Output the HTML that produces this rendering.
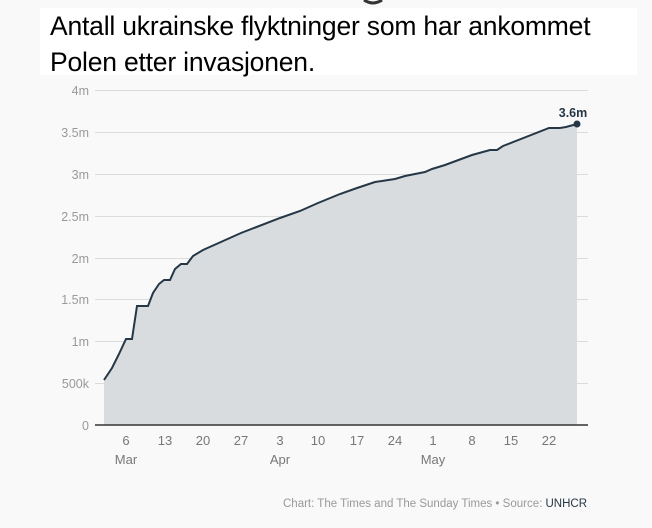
<!DOCTYPE html>
<html><head><style>
html,body{margin:0;padding:0;background:#f9f9f9;width:652px;height:528px;overflow:hidden;font-family:"Liberation Sans",sans-serif}
.t{position:absolute;left:40px;top:8px;width:597px;height:67px;background:#fff}
.t div{position:absolute;left:10px;font-size:26.5px;color:#000;white-space:nowrap;letter-spacing:-0.2px}
</style></head><body>
<svg width="652" height="528" style="position:absolute;left:0;top:0">
<path d="M364 0 q9 6 18 0" stroke="#333" stroke-width="3" fill="none"/>
<g stroke="#dcdcdc" stroke-width="1">
<line x1="95" x2="588" y1="90.5" y2="90.5"/><line x1="95" x2="588" y1="132.5" y2="132.5"/>
<line x1="95" x2="588" y1="174.5" y2="174.5"/><line x1="95" x2="588" y1="216.5" y2="216.5"/>
<line x1="95" x2="588" y1="258.5" y2="258.5"/><line x1="95" x2="588" y1="299.5" y2="299.5"/>
<line x1="95" x2="588" y1="341.5" y2="341.5"/><line x1="95" x2="588" y1="383.5" y2="383.5"/>
</g>
<path d="M104,380 L112,368 L119,354 L126,339 L132,339 L137,306 L148,306 L153,293 L159,284 L164,280 L170,280 L175,269 L181,264 L187,264 L193,256 L203,250 L241,233 L280,218 L300,211 L318,203 L340,194 L357,188 L375,182 L395,179 L405,176 L425,172 L432,169 L445,165 L472,155 L490,150 L497,150 L503,146 L549,128 L560,128 L566,127 L577,124 L577,425 L104,425 Z" fill="#d9dcdf"/>
<path d="M104,380 L112,368 L119,354 L126,339 L132,339 L137,306 L148,306 L153,293 L159,284 L164,280 L170,280 L175,269 L181,264 L187,264 L193,256 L203,250 L241,233 L280,218 L300,211 L318,203 L340,194 L357,188 L375,182 L395,179 L405,176 L425,172 L432,169 L445,165 L472,155 L490,150 L497,150 L503,146 L549,128 L560,128 L566,127 L577,124" fill="none" stroke="#253746" stroke-width="2"/>
<circle cx="577" cy="124" r="3.5" fill="#253746"/>
<line x1="95" x2="588" y1="425" y2="425" stroke="#333" stroke-width="1.5"/>
<text x="573" y="117" font-size="12.5" font-weight="bold" fill="#253746" text-anchor="middle">3.6m</text>
<g font-size="12.5" fill="#999" text-anchor="end">
<text x="89" y="95">4m</text><text x="89" y="137">3.5m</text><text x="89" y="179">3m</text>
<text x="89" y="221">2.5m</text><text x="89" y="263">2m</text><text x="89" y="304">1.5m</text>
<text x="89" y="346">1m</text><text x="89" y="388">500k</text><text x="89" y="430">0</text>
</g>
<g font-size="13" fill="#777" text-anchor="middle">
<text x="126" y="445">6</text><text x="165" y="445">13</text><text x="203" y="445">20</text>
<text x="241" y="445">27</text><text x="280" y="445">3</text><text x="318" y="445">10</text>
<text x="357" y="445">17</text><text x="395" y="445">24</text><text x="433" y="445">1</text>
<text x="472" y="445">8</text><text x="511" y="445">15</text><text x="549" y="445">22</text>
<text x="126" y="464">Mar</text><text x="280" y="464">Apr</text><text x="433" y="464">May</text>
</g>
<text x="283" y="507" font-size="11.5" fill="#999">Chart: The Times and The Sunday Times • Source: <tspan fill="#253746">UNHCR</tspan></text>
</svg>
<div class="t"><div style="top:3px">Antall ukrainske flyktninger som har ankommet</div><div style="top:39px">Polen etter invasjonen.</div></div>
</body></html>
